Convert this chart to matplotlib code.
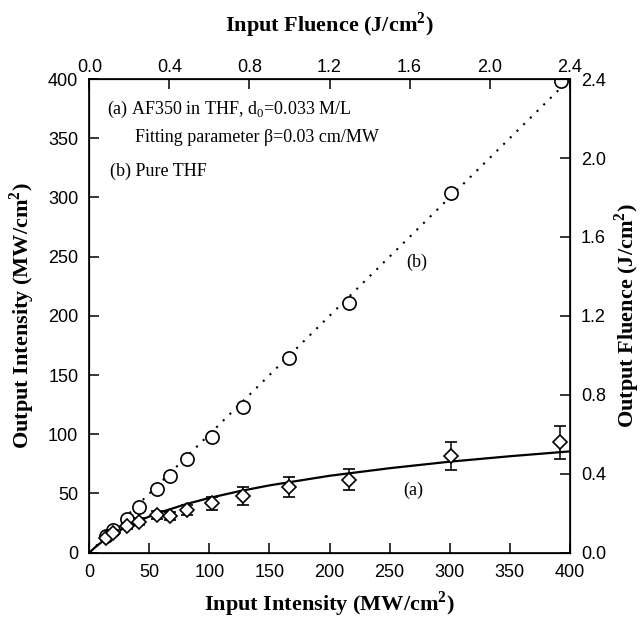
import numpy as np
import matplotlib.pyplot as plt

# (b) pure THF, circles
x_b = [14, 20, 31, 41, 56, 67, 81, 102, 128, 166, 216, 301, 393]
y_b = [14, 19, 28, 38.7, 53.7, 65, 79, 98, 123, 164, 211, 304, 398]

# (a) AF350 in THF, diamonds with error bars
x_a = [14, 20, 31, 41, 56, 67, 81, 102, 128, 166, 216, 301, 392]
y_a = [12, 16.7, 22.4, 26, 31.7, 30.9, 35.9, 41.6, 47.8, 55.1, 61.6, 81.6, 93.2]
err_a = [1.5, 2, 2.5, 3, 3.5, 3.5, 4, 5.5, 7.3, 8.5, 8.8, 12, 14]

# fitted curve (a)
fit_x = [0, 5, 10, 20, 30, 40, 50, 60, 80, 100, 125, 150, 200, 250, 300, 350, 400]
fit_y = [0, 4.66, 8.75, 15.7, 21.4, 26.3, 30.5, 34.3, 40.8, 46.2, 51.9, 56.8,
         64.9, 71.3, 76.8, 81.4, 85.5]

# line (b)
line_x = [0, 400]
line_y = [0, 400]

serif = 'Liberation Serif'
sans = 'Liberation Sans'
plt.rcParams['mathtext.fontset'] = 'custom'
plt.rcParams['mathtext.rm'] = 'Liberation Serif'
plt.rcParams['mathtext.bf'] = 'Liberation Serif:bold'

tick_fs = 13
label_fs = 16
text_fs = 13

fig = plt.figure(figsize=(6.43, 6.23), dpi=100)
ax = fig.add_axes([0.139, 0.113, 0.747, 0.760])

ax.plot(line_x, line_y, color='black', lw=1.5, linestyle=(0, (1, 3.5)))
ax.plot(fit_x, fit_y, color='black', lw=1.6)
ax.plot(x_b, y_b, linestyle='none', marker='o', ms=9.5, mfc='white',
        mec='black', mew=1.2, zorder=3)
ax.errorbar(x_a, y_a, yerr=err_a, fmt='D', ms=7.5, mfc='white', mec='black',
            mew=1.2, ecolor='black', elinewidth=1.1, capsize=4.5, capthick=1.1,
            zorder=4)

ax.set_xlim(0, 400)
ax.set_ylim(0, 400)
ax.set_xticks(np.arange(0, 401, 50))
ax.set_yticks(np.arange(0, 401, 50))
ax.tick_params(direction='in', length=7, width=1.1, labelsize=tick_fs, pad=8)
for lab in ax.get_xticklabels() + ax.get_yticklabels():
    lab.set_fontfamily(sans)
for s in ax.spines.values():
    s.set_linewidth(1.2)

ax.set_xlabel('Input Intensity (MW/cm$^\\mathbf{2}$)', fontsize=label_fs,
              fontweight='bold', fontfamily=serif, labelpad=6)
ax.set_ylabel('Output Intensity (MW/cm$^\\mathbf{2}$)', fontsize=label_fs,
              fontweight='bold', fontfamily=serif, labelpad=8)

# top axis: input fluence
axt = ax.twiny()
axt.set_xlim(0, 2.4)
axt.set_xticks(np.arange(0, 2.41, 0.4))
axt.set_xticklabels([f'{v:.1f}' for v in np.arange(0, 2.41, 0.4)],
                    fontfamily=sans)
axt.tick_params(direction='in', length=7, width=1.1, labelsize=tick_fs, pad=2)
axt.set_xlabel('Input Fluence (J/cm$^\\mathbf{2}$)', fontsize=label_fs,
               fontweight='bold', fontfamily=serif, labelpad=20)

# right axis: output fluence
axr = ax.twinx()
axr.set_ylim(0, 2.4)
axr.set_yticks(np.arange(0, 2.41, 0.4))
axr.set_yticklabels([f'{v:.1f}' for v in np.arange(0, 2.41, 0.4)],
                    fontfamily=sans)
axr.tick_params(direction='in', length=7, width=1.1, labelsize=tick_fs, pad=8)
axr.set_ylabel('Output Fluence (J/cm$^\\mathbf{2}$)', fontsize=label_fs,
               fontweight='bold', fontfamily=serif, labelpad=5)

# annotations
ax.text(15, 374, '(a) AF350 in THF, d$_\\mathregular{0}$=0.033 M/L',
        fontsize=text_fs, fontfamily=serif, va='center')
ax.text(38, 351, 'Fitting parameter β=0.03 cm/MW', fontsize=text_fs,
        fontfamily=serif, va='center')
ax.text(17, 322, '(b) Pure THF', fontsize=text_fs, fontfamily=serif,
        va='center')
ax.text(273, 245, '(b)', fontsize=text_fs, fontfamily=serif,
        ha='center', va='center')
ax.text(270, 53, '(a)', fontsize=text_fs, fontfamily=serif,
        ha='center', va='center')

fig.savefig('out.png', dpi=100)
